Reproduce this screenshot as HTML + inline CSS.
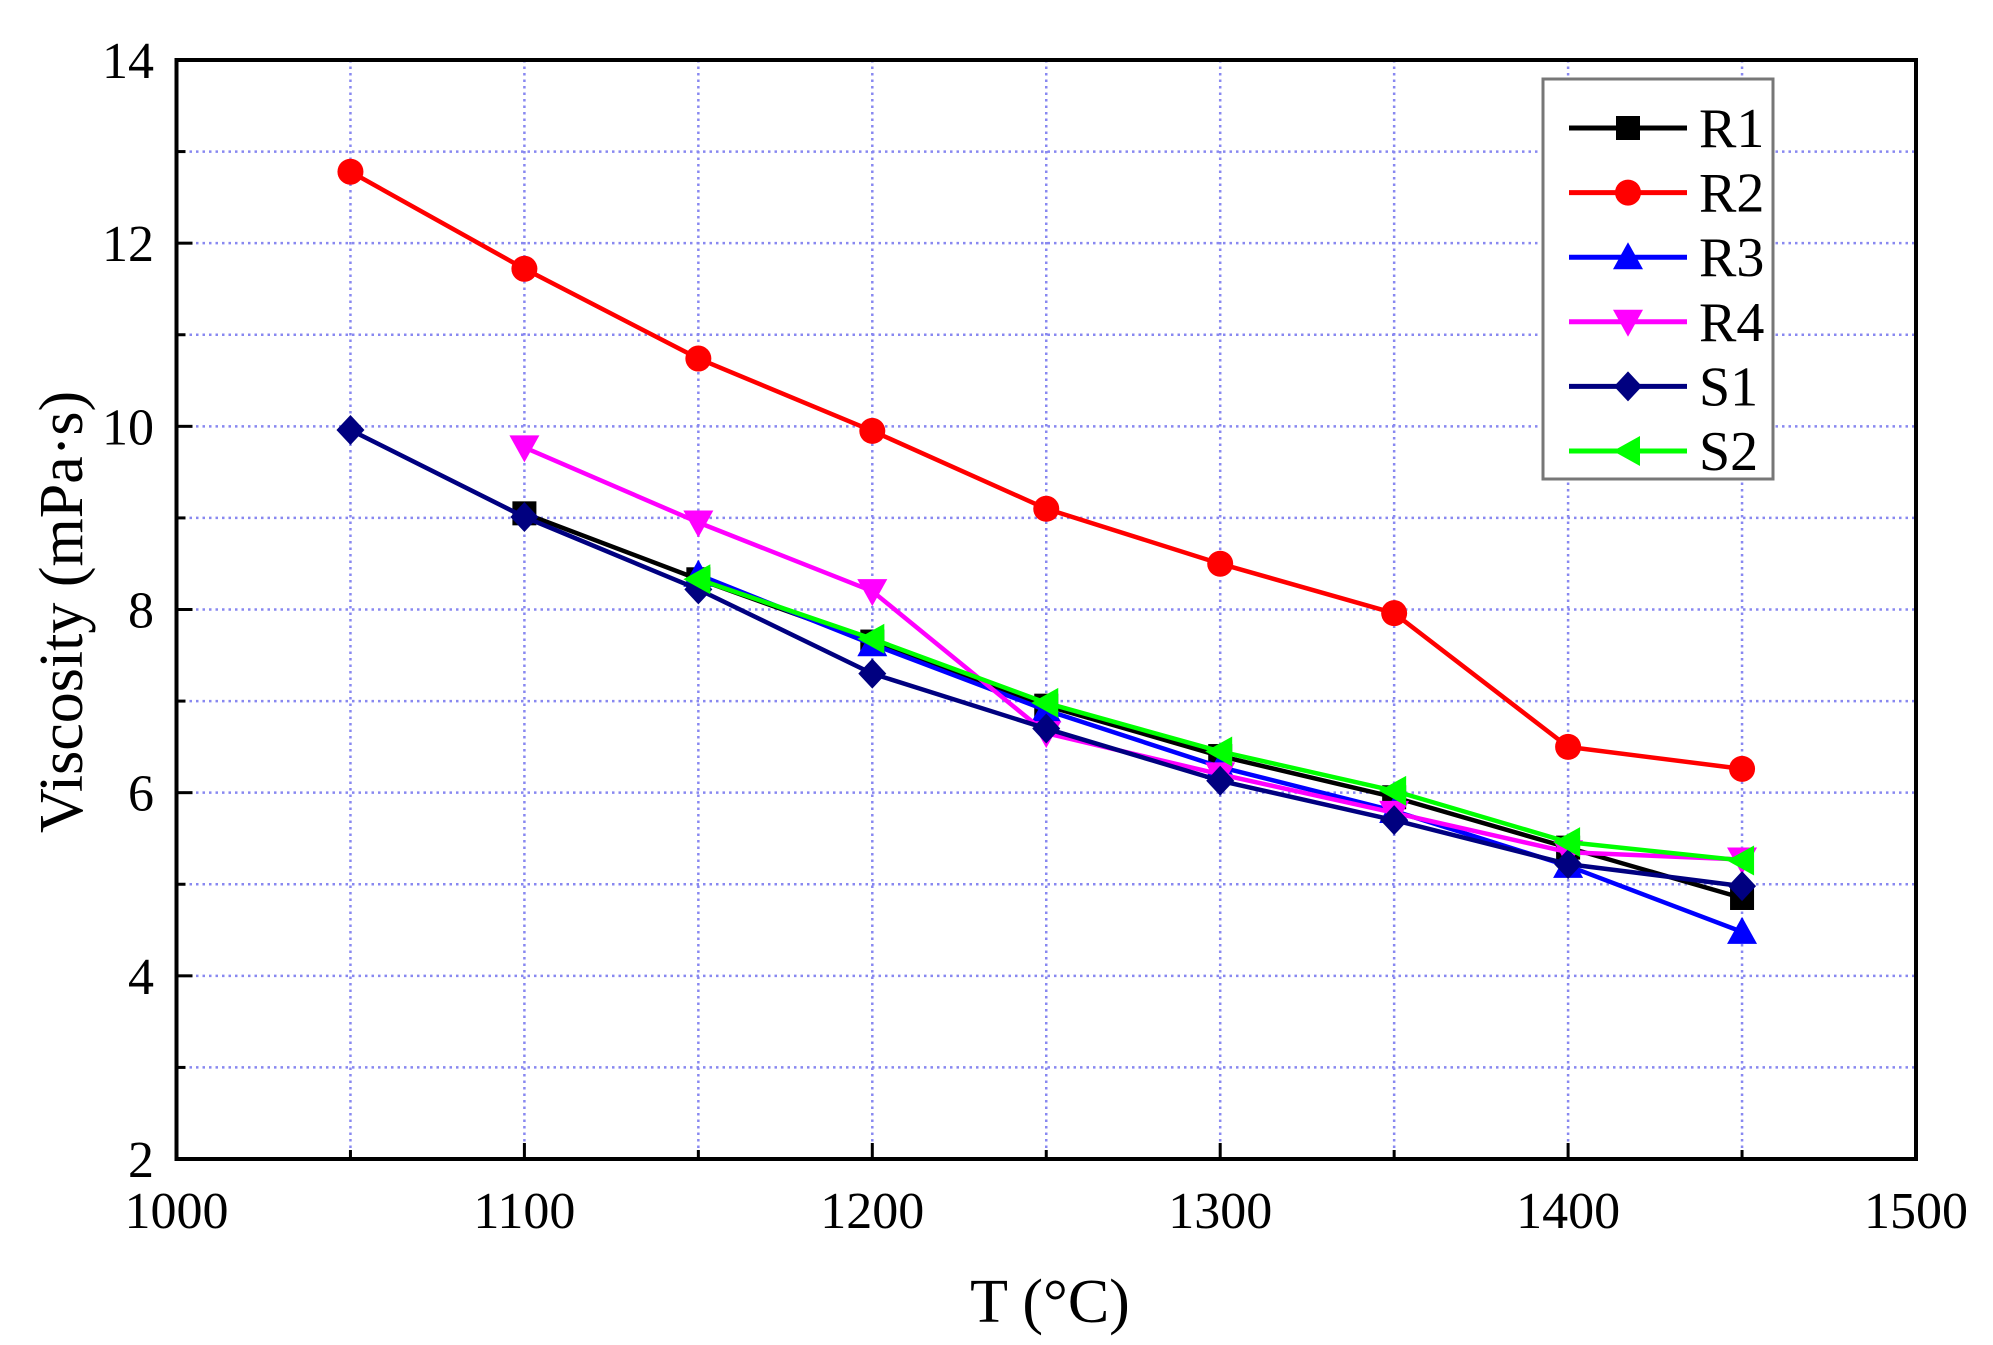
<!DOCTYPE html>
<html><head><meta charset="utf-8"><style>
body{margin:0;background:#fff;}
svg{display:block;font-family:"Liberation Serif","Times New Roman",serif;}
</style></head><body>
<svg id="chart" width="1993" height="1345" xmlns="http://www.w3.org/2000/svg">
<rect width="1993" height="1345" fill="#fff"/>
<g id="grid"></g>
<g id="series"></g>
<rect x="176.5" y="60" width="1739.5" height="1099" fill="none" stroke="#000" stroke-width="4"/>
<g id="ticks"></g>
<text x="1050" y="1322" font-size="62" text-anchor="middle">T (°C)</text>
<text transform="translate(82,612) rotate(-90)" font-size="62" text-anchor="middle">Viscosity (mPa·s)</text>
<g id="legend"></g>
</svg>
<script>
const xCategories=[1050,1100,1150,1200,1250,1300,1350,1400,1450];
const xTickLabels=[1000,1100,1200,1300,1400,1500];
const yTickLabels=[2,4,6,8,10,12,14];
const seriesNames=["R1","R2","R3","R4","S1","S2"];
const R1=[null,9.05,8.33,7.65,6.95,6.4,5.95,5.4,4.85];
const R2=[12.78,11.72,10.74,9.95,9.1,8.5,7.96,6.5,6.26];
const R3=[null,null,8.38,7.62,6.9,6.28,5.8,5.2,4.48];
const R4=[null,9.77,8.95,8.2,6.65,6.2,5.78,5.35,5.27];
const S1=[9.96,9.01,8.22,7.3,6.7,6.13,5.7,5.22,4.98];
const S2=[null,null,8.33,7.68,6.98,6.45,6.02,5.46,5.26];

const NS="http://www.w3.org/2000/svg";
const L=176.5,R=1916,T=60,B=1159;
const xs=v=>L+(v-1000)/500*(R-L);
const ys=v=>B-(v-2)/12*(B-T);
function mk(tag,attrs,parent){const e=document.createElementNS(NS,tag);for(const k in attrs)e.setAttribute(k,attrs[k]);parent.appendChild(e);return e;}
const grid=document.getElementById('grid'),ticks=document.getElementById('ticks'),ser=document.getElementById('series'),leg=document.getElementById('legend');
for(let v=1050;v<1500;v+=50){const l=mk('line',{x1:xs(v),x2:xs(v),y1:T,y2:B,stroke:'#8888f0','stroke-width':2.5,'stroke-dasharray':'2.5 4'},grid);
}
for(let v=3;v<14;v+=1){const l=mk('line',{x1:L,x2:R,y1:ys(v),y2:ys(v),stroke:'#8888f0','stroke-width':2.5,'stroke-dasharray':'2.5 4'},grid);
}
for(let v=1050;v<1500;v+=50){const major=(v%100===0);const l=mk('line',{x1:xs(v),x2:xs(v),y1:B,y2:B-(major?16:9),stroke:'#000','stroke-width':3},ticks);
}
for(let v=3;v<14;v++){const major=(v%2===0);const l=mk('line',{x1:L,x2:L+(major?16:9),y1:ys(v),y2:ys(v),stroke:'#000','stroke-width':3},ticks);
}
xTickLabels.forEach(v=>{const t=mk('text',{x:xs(v),y:1228,'font-size':52,'text-anchor':'middle'},ticks);t.textContent=v;
});
yTickLabels.forEach(v=>{const t=mk('text',{x:154,y:ys(v)+18,'font-size':52,'text-anchor':'end'},ticks);t.textContent=v;
});

const colors=["#000000","#ff0000","#0000ff","#ff00ff","#000080","#00ff00"];
const shapes=["square","circle","up","down","diamond","left"];
const data=[R1,R2,R3,R4,S1,S2];
function marker(shape,cx,cy,col,parent){const s=12;let e;
if(shape==='square')e=mk('rect',{x:cx-s,y:cy-s,width:2*s,height:2*s,fill:col},parent);
else if(shape==='circle')e=mk('circle',{cx:cx,cy:cy,r:s+1,fill:col},parent);
else{let p;
if(shape==='up')p=[[cx,cy-s-3],[cx+s+3,cy+s],[cx-s-3,cy+s]];
if(shape==='down')p=[[cx,cy+s+3],[cx+s+3,cy-s],[cx-s-3,cy-s]];
if(shape==='diamond')p=[[cx,cy-s-3],[cx+s+2,cy],[cx,cy+s+3],[cx-s-2,cy]];
if(shape==='left')p=[[cx-s-3,cy],[cx+s,cy-s-3],[cx+s,cy+s+3]];
e=mk('polygon',{points:p.map(q=>q.join(',')).join(' '),fill:col},parent);}
return e;}
data.forEach((arr,i)=>{const g=mk('g',{},ser);

const pts=[];arr.forEach((v,j)=>{if(v!=null)pts.push([xs(xCategories[j]),ys(v)]);});
const pl=mk('polyline',{points:pts.map(p=>p.join(',')).join(' '),fill:'none',stroke:colors[i],'stroke-width':4.5,'stroke-linejoin':'round'},g);

pts.forEach(p=>{const m=marker(shapes[i],p[0],p[1],colors[i],g);
});});

const box=mk('rect',{x:1543,y:79,width:230,height:400,fill:'#fff',stroke:'#777','stroke-width':3},leg);

seriesNames.forEach((n,i)=>{const y=128+i*64.6;const g=mk('g',{},leg);

mk('line',{x1:1569,x2:1687,y1:y,y2:y,stroke:colors[i],'stroke-width':5},g);
marker(shapes[i],1628,y,colors[i],g);
const t=mk('text',{x:1699,y:y+19,'font-size':56},g);t.textContent=n;
});
</script>
</body></html>
